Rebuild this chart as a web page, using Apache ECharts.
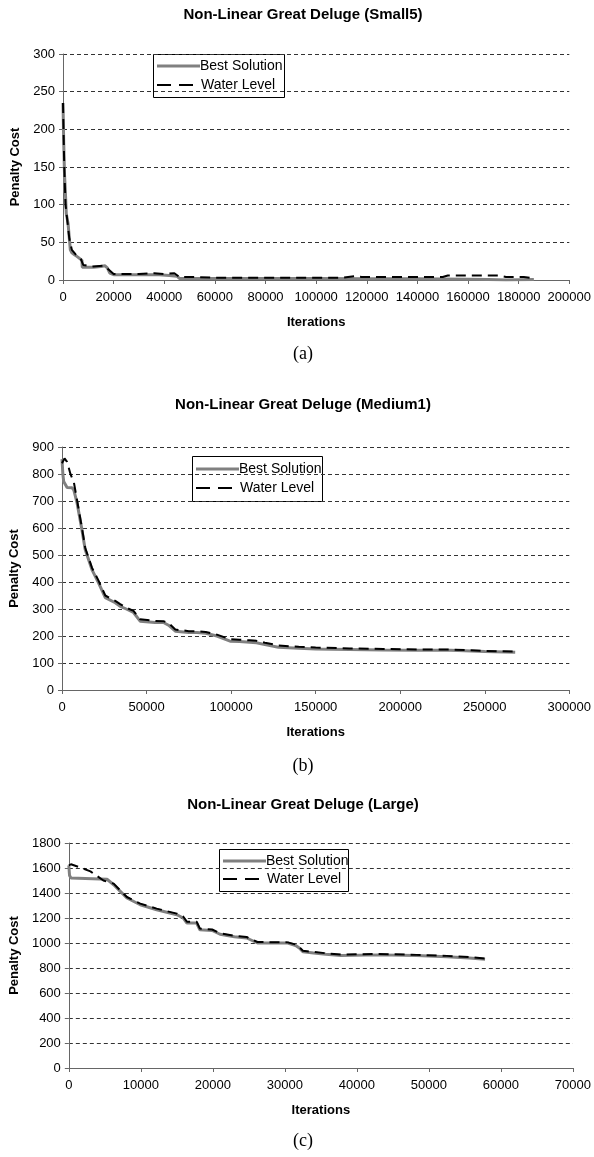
<!DOCTYPE html>
<html>
<head>
<meta charset="utf-8">
<script src="https://cdn.jsdelivr.net/npm/echarts@6/dist/echarts.min.js"></script>
<style>
html,body{margin:0;padding:0;background:#fff;}
#c{width:594px;height:1157px;}
</style>
</head>
<body>
<div id="c"></div>
<script>
// ---------- data ----------
const seriesNames = ['Best Solution', 'Water Level'];
const titles = ['Non-Linear Great Deluge (Small5)', 'Non-Linear Great Deluge (Medium1)', 'Non-Linear Great Deluge (Large)'];
const captions = ['(a)', '(b)', '(c)'];

// (a) Small5
const smallBestX = [0, 300, 600, 900, 1300, 2000, 2900, 3500, 4800, 6000, 7500, 7600, 12000, 15000, 16500, 17500, 18500, 20000, 30000, 38000, 42000, 45000, 46000, 60000, 80000, 100000, 120000, 140000, 160000, 168000, 175000, 186000];
const smallBestY = [235, 180, 140, 120, 88, 75, 40, 36, 33, 30, 26, 17, 17, 18, 19, 16, 9, 7, 7, 7, 6, 5, 2, 2, 2, 2, 1.5, 1.5, 1, 0.5, 0, 0.5];
const smallWaterX = [0, 500, 1000, 1500, 2500, 3500, 5000, 7000, 8000, 12000, 16000, 18000, 20000, 30000, 36000, 40000, 44000, 46000, 52000, 60000, 80000, 100000, 110000, 115000, 118000, 130000, 150000, 152000, 165000, 172000, 175000, 182000, 186000];
const smallWaterY = [235, 150, 100, 85, 55, 40, 34, 28, 20, 18, 19, 14, 8, 8, 9, 8, 9, 4, 4, 3, 3, 3, 3, 5, 4, 4, 4, 6, 6, 6, 4, 4, 2];

// (b) Medium1
const medBestX = [0, 500, 1000, 3000, 6000, 7000, 8900, 11800, 13700, 17700, 21600, 25600, 31500, 34400, 38000, 42300, 46200, 55000, 60000, 63000, 67000, 75000, 79800, 85000, 91600, 99400, 105000, 111000, 115000, 120000, 128000, 140000, 150000, 170000, 190000, 210000, 230000, 250000, 268000];
const medBestY = [855, 800, 772, 750, 749, 740, 693, 593, 520, 446, 397, 342, 323, 310, 300, 287, 255, 250, 250, 240, 218, 213, 213, 210, 200, 181, 180, 177, 175, 168, 158, 155, 152, 150, 148, 147, 147, 143, 140];
const medWaterX = [0, 1500, 3000, 5000, 7000, 9000, 11800, 13700, 17700, 21600, 25600, 31500, 34400, 38000, 42300, 46200, 55000, 60000, 63000, 67000, 75000, 79800, 85000, 91600, 99400, 105000, 111000, 115000, 120000, 128000, 140000, 150000, 170000, 190000, 210000, 230000, 250000, 270000];
const medWaterY = [840, 858, 845, 800, 770, 700, 600, 527, 453, 405, 350, 330, 318, 305, 293, 262, 256, 255, 248, 224, 218, 217, 215, 205, 188, 186, 184, 182, 175, 165, 160, 157, 154, 152, 150, 150, 145, 142];

// (c) Large
const largeBestX = [0, 100, 300, 5300, 6230, 7150, 8070, 9920, 12200, 15000, 15900, 16400, 17750, 18200, 19900, 21000, 23000, 24700, 26200, 30400, 31500, 32000, 32500, 34000, 35700, 37800, 43000, 48300, 52500, 55600, 57800];
const largeBestY = [1620, 1540, 1520, 1510, 1466, 1413, 1360, 1306, 1266, 1226, 1200, 1160, 1160, 1106, 1100, 1070, 1050, 1040, 1000, 1000, 980, 960, 930, 920, 910, 900, 905, 900, 890, 880, 870];
const largeWaterX = [0, 300, 2000, 3000, 4800, 6230, 7150, 8070, 9920, 12200, 15000, 15900, 16400, 17750, 18200, 19900, 21000, 23000, 24700, 26200, 30400, 31500, 32000, 32500, 34000, 35700, 37800, 43000, 48300, 52500, 55600, 57800];
const largeWaterY = [1620, 1630, 1595, 1573, 1500, 1475, 1420, 1368, 1315, 1275, 1235, 1210, 1170, 1170, 1115, 1108, 1078, 1058, 1048, 1008, 1005, 988, 968, 938, 928, 918, 908, 912, 905, 897, 888, 875];

// axis ranges / ticks
const xMax = [200000, 300000, 70000];
const xInterval = [20000, 50000, 10000];
const yMax = [300, 900, 1800];
const yInterval = [50, 100, 200];

// ---------- layout ----------
const grids = [
  {left: 63, top: 54, width: 508, height: 226},
  {left: 62, top: 447, width: 508, height: 243},
  {left: 68, top: 843, width: 506, height: 225}
];
const legendBoxes = [
  {x: 153, y: 54, w: 131, h: 43},
  {x: 192, y: 456, w: 130, h: 45},
  {x: 219, y: 849, w: 129, h: 42}
];
const titleY = [15, 405, 805];
const captionY = [354, 766, 1141];
const centerX = 303;

const pair = (xs, ys) => xs.map((x, i) => [x, ys[i]]);
const dataSets = [
  [pair(smallBestX, smallBestY), pair(smallWaterX, smallWaterY)],
  [pair(medBestX, medBestY), pair(medWaterX, medWaterY)],
  [pair(largeBestX, largeBestY), pair(largeWaterX, largeWaterY)]
];

const FONT = '"Liberation Sans", Arial, sans-serif';
const BEST_STYLE = {color: '#808080', width: 3};
const WATER_STYLE = {color: '#000', width: 2, type: [10, 6]};
const plain = v => String(v);

const option = {
  backgroundColor: '#fff',
  animation: false,
  grid: grids.map(g => Object.assign({containLabel: false}, g)),
  xAxis: grids.map((g, i) => ({
    gridIndex: i, type: 'value', min: 0, max: xMax[i], interval: xInterval[i],
    name: 'Iterations', nameLocation: 'middle', nameGap: 36,
    nameTextStyle: {fontFamily: FONT, fontWeight: 'bold', fontSize: 13, color: '#000'},
    axisLine: {lineStyle: {color: '#666', width: 1}},
    axisTick: {show: true, length: 4, lineStyle: {color: '#666'}},
    axisLabel: {fontFamily: FONT, fontSize: 13, color: '#000', margin: 11, formatter: plain, showMaxLabel: true, showMinLabel: true},
    splitLine: {show: false}
  })),
  yAxis: grids.map((g, i) => ({
    gridIndex: i, type: 'value', min: 0, max: yMax[i], interval: yInterval[i],
    name: 'Penalty Cost', nameLocation: 'middle', nameGap: [40, 39, 45][i],
    nameTextStyle: {fontFamily: FONT, fontWeight: 'bold', fontSize: 13, color: '#000'},
    axisLine: {show: true, lineStyle: {color: '#666', width: 1}},
    axisTick: {show: true, length: 4, lineStyle: {color: '#666'}},
    axisLabel: {fontFamily: FONT, fontSize: 13, color: '#000', margin: 8, formatter: plain},
    splitLine: {show: true, lineStyle: {color: '#333', width: 1, type: [4, 3]}}
  })),
  series: [],
  graphic: []
};

dataSets.forEach((ds, i) => {
  option.series.push({
    name: seriesNames[0], type: 'line', xAxisIndex: i, yAxisIndex: i,
    data: ds[0], symbol: 'none', z: 2,
    lineStyle: BEST_STYLE
  });
  option.series.push({
    name: seriesNames[1], type: 'line', xAxisIndex: i, yAxisIndex: i,
    data: ds[1], symbol: 'none', z: 3,
    lineStyle: WATER_STYLE
  });
  option.graphic.push({
    type: 'text', x: centerX, y: titleY[i],
    style: {text: titles[i], font: 'bold 15px ' + FONT, fill: '#000', textAlign: 'center', textVerticalAlign: 'middle'}
  });
  option.graphic.push({
    type: 'text', x: centerX, y: captionY[i],
    style: {text: captions[i], font: '18px "Liberation Serif", "DejaVu Serif", serif', fill: '#000', textAlign: 'center', textVerticalAlign: 'middle'}
  });
  // legend box
  const b = legendBoxes[i];
  const y1 = b.y + Math.round(b.h * 0.29);
  const y2 = b.y + Math.round(b.h * 0.72);
  option.graphic.push({
    type: 'group', z: 10,
    children: [
      {type: 'rect', shape: {x: b.x + 0.5, y: b.y + 0.5, width: b.w, height: b.h}, style: {fill: '#fff', stroke: '#000', lineWidth: 1}},
      {type: 'line', shape: {x1: b.x + 4, y1: y1, x2: b.x + 47, y2: y1}, style: {stroke: BEST_STYLE.color, lineWidth: BEST_STYLE.width}},
      {type: 'text', x: b.x + 47, y: y1, style: {text: seriesNames[0], font: '14px ' + FONT, fill: '#000', textAlign: 'left', textVerticalAlign: 'middle'}},
      {type: 'line', shape: {x1: b.x + 4, y1: y2, x2: b.x + 47, y2: y2}, style: {stroke: WATER_STYLE.color, lineWidth: WATER_STYLE.width, lineDash: [14, 8]}},
      {type: 'text', x: b.x + 48, y: y2, style: {text: seriesNames[1], font: '14px ' + FONT, fill: '#000', textAlign: 'left', textVerticalAlign: 'middle'}}
    ]
  });
});

const chart = echarts.init(document.getElementById('c'), null, {renderer: 'canvas'});
chart.setOption(option);
</script>
</body>
</html>
